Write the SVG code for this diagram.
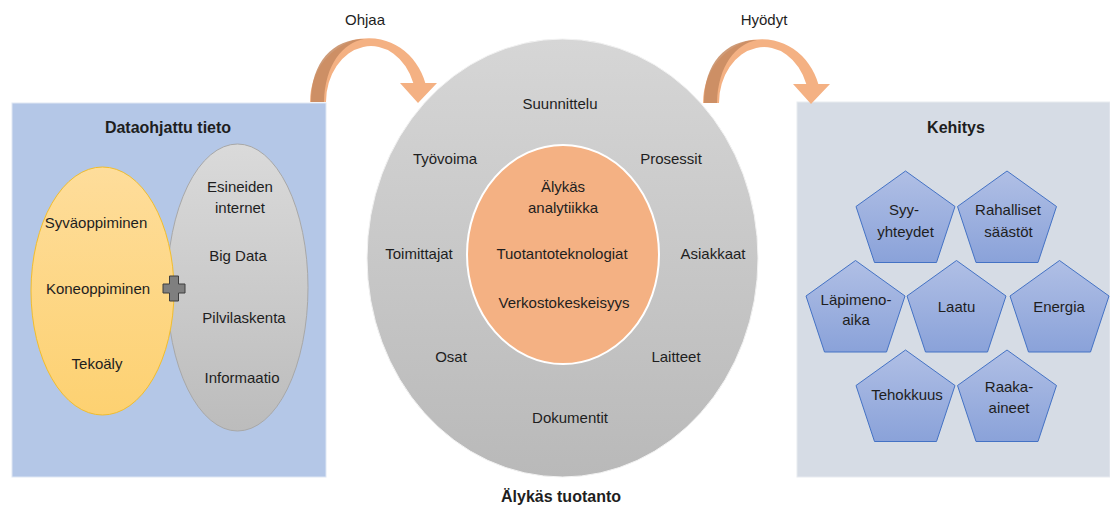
<svg xmlns="http://www.w3.org/2000/svg" width="1110" height="506" viewBox="0 0 1110 506">
<defs>
<style>
text{font-family:"Liberation Sans",Arial,sans-serif;font-size:15px;fill:#1e1e1e;text-anchor:middle}
.title{font-weight:bold;font-size:16px}
.pent{fill:url(#gPent);stroke:#4472c4;stroke-width:1}
.arrowLight{fill:#f4b183}
.arrowDark{fill:#c58a60;opacity:0.85}
</style>
<linearGradient id="gYel" x1="0" y1="0" x2="0" y2="1">
<stop offset="0" stop-color="#fedd9b"/><stop offset="1" stop-color="#fdd171"/>
</linearGradient>
<linearGradient id="gGray" x1="0" y1="0" x2="0" y2="1">
<stop offset="0" stop-color="#dadada"/><stop offset="1" stop-color="#bcbcbc"/>
</linearGradient>
<linearGradient id="gBig" x1="0" y1="0" x2="0" y2="1">
<stop offset="0" stop-color="#d6d6d6"/><stop offset="1" stop-color="#b9b9b9"/>
</linearGradient>
<linearGradient id="gPent" x1="0" y1="0" x2="0" y2="1">
<stop offset="0" stop-color="#b0bfe5"/><stop offset="1" stop-color="#8aa2d9"/>
</linearGradient>
<g id="curvedArrow">
<path class="arrowLight" d="M310,102 A59,64 0 0 1 425.3,83 L437,83 L418,103 L400,83 L413.3,83 A45,56 0 0 0 326,102 Z"/>
<path class="arrowDark" d="M311,102 C311,62 333,39 364,39 C343,43 325,64 324,102 Z"/>
</g>
<polygon id="pentShape" points="0,0 49.5,35.5 31,91.5 -31,91.5 -49.5,35.5"/>
</defs>

<g id="panel-left">
<rect x="12" y="103" width="314" height="374" fill="#b4c7e7" stroke="#dfe7f4" stroke-width="1"/>
<text class="title" x="168" y="133">Dataohjattu tieto</text>
</g>

<g id="node-data">
<ellipse cx="237.5" cy="287.5" rx="70.5" ry="143.5" fill="url(#gGray)" stroke="#a8a8a8" stroke-width="1"/>
<text x="240" y="192">Esineiden</text>
<text x="240" y="213">internet</text>
<text x="238" y="261">Big Data</text>
<text x="244" y="323">Pilvilaskenta</text>
<text x="242" y="383">Informaatio</text>
</g>

<g id="node-ai">
<ellipse cx="102.5" cy="291" rx="71.5" ry="124" fill="url(#gYel)" stroke="#f2bd2c" stroke-width="1"/>
<text x="96" y="228">Syväoppiminen</text>
<text x="98" y="294">Koneoppiminen</text>
<text x="97" y="369">Tekoäly</text>
</g>

<g id="node-plus">
<path d="M169.5,276 H178.5 V284 H185 V293 H178.5 V301 H169.5 V293 H163 V284 H169.5 Z" fill="#7f7f7f" stroke="#3f3f3f" stroke-width="1"/>
</g>

<g id="node-production">
<ellipse cx="562.5" cy="258" rx="195.5" ry="219" fill="url(#gBig)" stroke="#f2f2f2" stroke-width="1"/>
<text x="560" y="109">Suunnittelu</text>
<text x="445" y="164">Työvoima</text>
<text x="671" y="164">Prosessit</text>
<text x="419" y="259">Toimittajat</text>
<text x="713" y="259">Asiakkaat</text>
<text x="451" y="362">Osat</text>
<text x="676" y="362">Laitteet</text>
<text x="570" y="423">Dokumentit</text>
<text class="title" x="561" y="502">Älykäs tuotanto</text>
</g>

<g id="node-core">
<ellipse cx="563" cy="254.5" rx="96" ry="109.5" fill="#f4b183" stroke="#ffffff" stroke-width="2"/>
<text x="563" y="192">Älykäs</text>
<text x="563" y="213">analytiikka</text>
<text x="562" y="259">Tuotantoteknologiat</text>
<text x="564" y="308">Verkostokeskeisyys</text>
</g>

<g id="panel-right">
<rect x="797" y="102" width="313" height="375" fill="#d6dce5" stroke="#e8ebf0" stroke-width="1"/>
<text class="title" x="956" y="133">Kehitys</text>
</g>

<g id="node-syy">
<use href="#pentShape" class="pent" transform="translate(905.5,171)"/>
<text x="904" y="215">Syy-</text>
<text x="905.5" y="237">yhteydet</text>
</g>
<g id="node-rahalliset">
<use href="#pentShape" class="pent" transform="translate(1007,171)"/>
<text x="1008" y="215">Rahalliset</text>
<text x="1008.5" y="237">säästöt</text>
</g>
<g id="node-lapimeno">
<use href="#pentShape" class="pent" transform="translate(855.5,260.5)"/>
<text x="856" y="305">Läpimeno-</text>
<text x="856" y="325">aika</text>
</g>
<g id="node-laatu">
<use href="#pentShape" class="pent" transform="translate(956.5,260.5)"/>
<text x="956.5" y="311.5">Laatu</text>
</g>
<g id="node-energia">
<use href="#pentShape" class="pent" transform="translate(1059.5,260.5)"/>
<text x="1059" y="311.5">Energia</text>
</g>
<g id="node-tehokkuus">
<use href="#pentShape" class="pent" transform="translate(905.5,350)"/>
<text x="907" y="400">Tehokkuus</text>
</g>
<g id="node-raaka">
<use href="#pentShape" class="pent" transform="translate(1007,350)"/>
<text x="1009" y="392">Raaka-</text>
<text x="1009" y="413">aineet</text>
</g>

<g id="connectors">
<use href="#curvedArrow"/>
<text x="365" y="25">Ohjaa</text>
<use href="#curvedArrow" transform="translate(393,1)"/>
<text x="764" y="25">Hyödyt</text>
</g>
</svg>
